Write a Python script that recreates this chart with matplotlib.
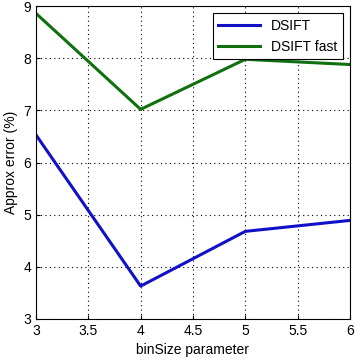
import matplotlib
matplotlib.use("Agg")
import matplotlib.pyplot as plt

bin_sizes = [3, 4, 5, 6]
dsift = [6.53, 3.63, 4.68, 4.89]
dsift_fast = [8.86, 7.02, 7.98, 7.88]
xticks = [3, 3.5, 4, 4.5, 5, 5.5, 6]
yticks = [3, 4, 5, 6, 7, 8, 9]

plt.rcParams['font.family'] = ['Liberation Sans', 'DejaVu Sans']
fig = plt.figure(figsize=(3.6, 3.6), dpi=100)
ax = fig.add_axes([0.1, 0.114, 0.872, 0.869])
ax.plot(bin_sizes, dsift, color='#1010c8', lw=2.2, label='DSIFT')
ax.plot(bin_sizes, dsift_fast, color='#107010', lw=2.2, label='DSIFT fast')
ax.set_xlim(3, 6)
ax.set_ylim(3, 9)
ax.set_xticks(xticks)
ax.set_xticklabels([f'{t:g}' for t in xticks])
ax.set_yticks(yticks)
ax.grid(True, color='black', linestyle=(0, (1, 3)), linewidth=0.8)
ax.tick_params(direction='in', labelsize=10, length=3)
for s in ax.spines.values():
    s.set_linewidth(0.8)
ax.set_xlabel('binSize parameter', fontsize=10)
ax.set_ylabel('Approx error (%)', fontsize=10)
leg = ax.legend(loc='upper right', fontsize=10, fancybox=False, framealpha=1,
                edgecolor='black', handlelength=3)
leg.get_frame().set_linewidth(0.8)
fig.savefig('out.png', dpi=100)
